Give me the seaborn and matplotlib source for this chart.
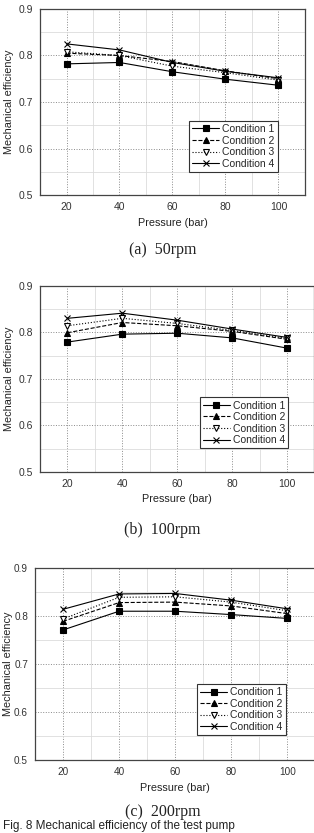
import numpy as np
import pandas as pd
import matplotlib
matplotlib.use("Agg")
import matplotlib.pyplot as plt
from matplotlib.ticker import MultipleLocator
import seaborn as sns

sns.set_style("white")
plt.rcParams['font.family'] = ['Liberation Sans', 'DejaVu Sans']

pressure = [20, 40, 60, 80, 100]
conditions = ["Condition 1", "Condition 2", "Condition 3", "Condition 4"]

# mechanical efficiency, one list per condition, per speed
eff_50 = [[0.782, 0.785, 0.765, 0.749, 0.736],
          [0.805, 0.800, 0.787, 0.767, 0.750],
          [0.808, 0.800, 0.777, 0.763, 0.747],
          [0.825, 0.812, 0.785, 0.766, 0.752]]
eff_100 = [[0.779, 0.796, 0.798, 0.788, 0.766],
           [0.799, 0.821, 0.814, 0.802, 0.785],
           [0.814, 0.830, 0.819, 0.804, 0.787],
           [0.830, 0.841, 0.826, 0.807, 0.789]]
eff_200 = [[0.771, 0.810, 0.810, 0.803, 0.795],
           [0.789, 0.828, 0.829, 0.821, 0.805],
           [0.794, 0.839, 0.840, 0.829, 0.811],
           [0.814, 0.846, 0.847, 0.833, 0.815]]
titles = ["(a)  50rpm", "(b)  100rpm", "(c)  200rpm"]

styles = [dict(marker='s', linestyle='-', markerfacecolor='k'),
          dict(marker='^', linestyle='--', markerfacecolor='k'),
          dict(marker='v', linestyle=':', markerfacecolor='white'),
          dict(marker='x', linestyle='-', markerfacecolor='k')]

fig = plt.figure(figsize=(3.14, 8.33), dpi=100)

# [left, bottom, width, height] in figure fraction, panels b/c run off the right edge
positions = [[0.1274, 0.7659, 0.8439, 0.2233],
             [0.1274, 0.4334, 0.8739, 0.2236],
             [0.1115, 0.0876, 0.8927, 0.2305]]
leg_anchor = [(0.898, 0.124), (0.905, 0.127), (0.895, 0.130)]
title_y = [250, 530, 812]
tick_size = [7.5, 7.5, 7.2]
ylab_pad = [3, 3, 1]

for k, data in enumerate([eff_50, eff_100, eff_200]):
    ax = fig.add_axes(positions[k])
    for i, cond in enumerate(conditions):
        df = pd.DataFrame({"Pressure (bar)": pressure, "eff": data[i]})
        sns.lineplot(data=df, x="Pressure (bar)", y="eff", ax=ax, color='k',
                     lw=0.8, markersize=4.8, markeredgecolor='k', markeredgewidth=0.8,
                     label=cond, **styles[i])
    ax.set_xlim(10, 110)
    ax.set_ylim(0.5, 0.9)
    ax.xaxis.set_major_locator(MultipleLocator(20))
    ax.xaxis.set_minor_locator(MultipleLocator(10))
    ax.yaxis.set_major_locator(MultipleLocator(0.1))
    ax.yaxis.set_minor_locator(MultipleLocator(0.05))
    ax.set_xticks([20, 40, 60, 80, 100])
    ax.grid(which='major', color='#8a8a8a', linestyle=':', lw=0.7)
    ax.grid(which='minor', color='#dcdcdc', linestyle='-', lw=0.6)
    ax.set_axisbelow(True)
    for s in ax.spines.values():
        s.set_color('#444444')
        s.set_linewidth(0.9)
    ax.tick_params(which='major', direction='out', length=3, width=0.8,
                   labelsize=tick_size[k], colors='#333333', pad=2)
    ax.tick_params(which='minor', direction='out', length=1.5, width=0.6, colors='#444444')
    ax.set_xlabel("Pressure (bar)", fontsize=7.8, color='#222222', labelpad=4)
    ax.set_ylabel("Mechanical efficiency", fontsize=7.8, color='#222222', labelpad=ylab_pad[k])
    leg = ax.legend(loc='lower right', bbox_to_anchor=leg_anchor[k], fontsize=7.5,
                    frameon=True, fancybox=False, framealpha=1, edgecolor='#333333',
                    handlelength=2.6, handletextpad=0.3, labelspacing=0.15,
                    borderpad=0.3, borderaxespad=0)
    leg.get_frame().set_linewidth(0.8)
    fig.text(0.517, 1 - title_y[k] / 833, titles[k], ha='center', va='center',
             fontsize=11.5, family=['Liberation Serif', 'DejaVu Serif'], color='#222222')

fig.text(0.01, 0.001, "Fig. 8 Mechanical efficiency of the test pump",
         ha='left', va='bottom', fontsize=8.5, color='#222222')

fig.savefig("out.png", dpi=100)
